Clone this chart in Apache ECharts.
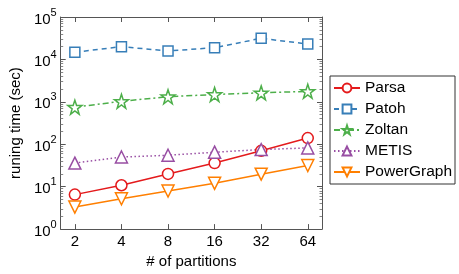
<!DOCTYPE html>
<html>
<head>
<meta charset="utf-8">
<script src="https://cdn.jsdelivr.net/npm/echarts@6/dist/echarts.min.js"></script>
<style>
  html, body { margin: 0; padding: 0; background: #fff; }
  #chart { width: 459px; height: 274px; }
</style>
</head>
<body>
<div id="chart"></div>
<script>
const partitions = [2, 4, 8, 16, 32, 64]
const parsa = [6.5, 10.8, 20, 36, 70, 140]
const patoh = [14800, 20000, 15800, 18900, 31500, 23000]
const zoltan = [750, 1030, 1320, 1490, 1630, 1770]
const metis = [36, 50, 55, 65, 75, 82]
const powerGraph = [3.3, 5.2, 7.9, 12, 19.7, 31.6]

const star = 'path://M50,0 L61.8,35.1 L98.1,35.1 L68.8,56.9 L79.4,91.9 L50,70.3 L20.6,91.9 L31.2,56.9 L1.9,35.1 L38.2,35.1 Z'
const font = 'Liberation Sans'
const axisCol = '#555'

const pairs = vals => partitions.map((p, i) => [p, vals[i]])

function mkSeries (name, vals, color, lineType, symbol, size, rotate) {
  return {
    name: name,
    type: 'line',
    data: pairs(vals),
    symbol: symbol,
    symbolSize: size,
    symbolRotate: rotate || 0,
    showAllSymbol: true,
    lineStyle: { color: color, width: 1.5, type: lineType },
    itemStyle: { color: '#fff', borderColor: color, borderWidth: 1.5 },
    emphasis: { disabled: true },
    z: 3
  }
}

const chart = echarts.init(document.getElementById('chart'), null, { renderer: 'canvas' })

const xBase = {
  type: 'log',
  logBase: 2,
  min: 1.62,
  max: 79.1,
  axisLine: { show: true, lineStyle: { color: axisCol, width: 1 } },
  splitLine: { show: false }
}
const yBase = {
  type: 'log',
  logBase: 10,
  min: 1,
  max: 100000,
  axisLine: { show: true, lineStyle: { color: axisCol, width: 1 } },
  splitLine: { show: false },
  minorTick: { show: true, splitNumber: 9, length: 2.5, lineStyle: { color: '#888' } }
}

chart.setOption({
  animation: false,
  textStyle: { fontFamily: font },
  grid: { left: 52, right: 137, top: 17, bottom: 38 },
  legend: {
    orient: 'vertical',
    left: 330,
    top: 76,
    itemWidth: 26,
    itemHeight: 11,
    itemGap: 5,
    padding: [4, 3, 4, 3],
    borderColor: '#333',
    borderWidth: 1,
    textStyle: { fontFamily: font, fontSize: 15.5, color: '#000' },
    data: ['Parsa', 'Patoh', 'Zoltan', 'METIS', 'PowerGraph']
  },
  xAxis: [
    Object.assign({}, xBase, {
      name: '# of partitions',
      nameLocation: 'middle',
      nameGap: 22,
      nameTextStyle: { fontFamily: font, fontSize: 15, color: '#000' },
      axisTick: { inside: true, length: 5, lineStyle: { color: axisCol } },
      axisLabel: {
        fontFamily: font, fontSize: 15, color: '#000', margin: 5,
        showMinLabel: false, showMaxLabel: false,
        formatter: v => partitions.indexOf(Math.round(v)) >= 0 && Math.abs(v - Math.round(v)) < 0.01 ? String(Math.round(v)) : ''
      }
    }),
    Object.assign({}, xBase, {
      position: 'top',
      axisTick: { inside: true, length: 5, lineStyle: { color: axisCol } },
      axisLabel: { show: false }
    })
  ],
  yAxis: [
    Object.assign({}, yBase, {
      name: 'runing time (sec)',
      nameLocation: 'middle',
      nameGap: 31,
      nameTextStyle: { fontFamily: font, fontSize: 15, color: '#000' },
      axisTick: { inside: true, length: 5, lineStyle: { color: axisCol } },
      axisLabel: {
        margin: 4,
        formatter: v => '{b|10}{s|' + Math.round(Math.log10(v)) + '}',
        rich: {
          b: { fontFamily: font, fontSize: 15, color: '#000', verticalAlign: 'bottom' },
          s: { fontFamily: font, fontSize: 11, color: '#000', verticalAlign: 'top', padding: [0, 0, 9, 0] }
        }
      }
    }),
    Object.assign({}, yBase, {
      position: 'right',
      axisTick: { inside: true, length: 5, lineStyle: { color: axisCol } },
      axisLabel: { show: false }
    })
  ],
  series: [
    mkSeries('Parsa', parsa, '#e41a1c', 'solid', 'circle', 11),
    mkSeries('Patoh', patoh, '#377eb8', [5, 4], 'rect', 10),
    mkSeries('Zoltan', zoltan, '#4daf4a', [6, 3, 2, 3], star, 14),
    mkSeries('METIS', metis, '#984ea3', [1.5, 2.5], 'triangle', 12),
    mkSeries('PowerGraph', powerGraph, '#ff7f00', 'solid', 'triangle', 12, 180)
  ]
})
</script>
</body>
</html>
